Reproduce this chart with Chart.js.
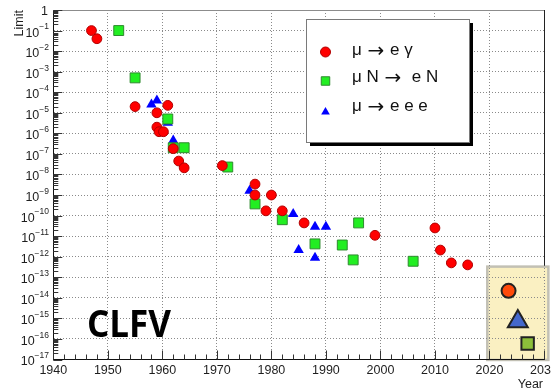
<!DOCTYPE html>
<html>
<head>
<meta charset="utf-8">
<title>CLFV limits</title>
<script src="https://cdn.jsdelivr.net/npm/chart.js@4.4.1/dist/chart.umd.min.js"></script>
<style>
  html, body { margin: 0; padding: 0; background: #fff; }
  canvas { display: block; }
</style>
</head>
<body>
<canvas id="clfvChart" width="551" height="392"></canvas>
<script>
// mu -> e gamma
const megYears  = [1947, 1948, 1955, 1959, 1959, 1959.4, 1960.2, 1961, 1962, 1963, 1964, 1971, 1977, 1977, 1979, 1980, 1982, 1986, 1999, 2010, 2011, 2013, 2016];
const megLimits = [1e-1, 4e-2, 2e-5, 1e-5, 2e-6, 1.2e-6, 1.2e-6, 2.3e-5, 1.8e-7, 4.5e-8, 2.1e-8, 2.7e-8, 3.4e-9, 1e-9, 1.7e-10, 1e-9, 1.7e-10, 4.4e-11, 1.1e-11, 2.5e-11, 2.1e-12, 5e-13, 4e-13];

// mu N -> e N
const convYears  = [1952, 1955, 1961, 1962, 1964, 1972, 1977, 1982, 1988, 1993, 1995, 1996, 2006];
const convLimits = [1e-1, 5e-4, 5e-6, 2e-7, 2e-7, 2.3e-8, 3.7e-10, 6.3e-11, 4.2e-12, 3.7e-12, 7e-13, 4.4e-11, 6e-13];

// mu -> e e e
const eeeYears  = [1958, 1959, 1961, 1962, 1976, 1984, 1985, 1988, 1988, 1990];
const eeeLimits = [2.5e-5, 4e-5, 3.3e-6, 4.5e-7, 1.6e-9, 1.2e-10, 2.1e-12, 2.9e-11, 9e-13, 2.9e-11];

// expected sensitivities (yellow box)
const futureYears  = [2023.5, 2025.2, 2027];
const futureLimits = [2.2e-14, 7e-16, 6e-17];
const boxYears  = [2019.6, 2030.8];
const boxLimits = [3.3e-13, 9.5e-18];

const seriesLabels = ['\u03bc \u2192 e \u03b3', '\u03bc N \u2192  e N', '\u03bc \u2192 e e e'];
const yearTicks = [1940, 1950, 1960, 1970, 1980, 1990, 2000, 2010, 2020, 2030];
const limitExponents = [0, -1, -2, -3, -4, -5, -6, -7, -8, -9, -10, -11, -12, -13, -14, -15, -16, -17];

const FONT = "'Liberation Sans', Arial, sans-serif";

function toPoints(xs, ys) {
    return xs.map((x, i) => ({ x: x, y: ys[i] }));
}

// legend text: draw the arrow a bit bigger, like the ROOT latex arrow
function drawLegendText(ctx, text, x, y) {
    const parts = text.split('\u2192');
    let cx = x;
    parts.forEach((part, i) => {
        ctx.font = '17px ' + FONT;
        ctx.fillText(part, cx, y);
        cx += ctx.measureText(part).width;
        if (i < parts.length - 1) {
            ctx.font = "20px 'DejaVu Sans', sans-serif";
            ctx.fillText('\u2192', cx + 1, y + 2);
            cx += ctx.measureText('\u2192').width + 2;
        }
    });
}

// ROOT-like frame, inside ticks, superscript labels, legend and annotation
const rootStyle = {
    id: 'rootStyle',
    beforeDraw(chart) {
        const { ctx } = chart;
        const xs = chart.scales.x, ys = chart.scales.y;
        const x0 = xs.getPixelForValue(boxYears[0]);
        const x1 = xs.getPixelForValue(boxYears[1]);
        const y0 = ys.getPixelForValue(boxLimits[0]);
        const y1 = ys.getPixelForValue(boxLimits[1]);
        ctx.save();
        ctx.fillStyle = '#faf0c2';
        ctx.fillRect(x0, y0, x1 - x0, y1 - y0);
        ctx.strokeStyle = '#c2c0b4';
        ctx.lineWidth = 2.5;
        ctx.strokeRect(x0, y0, x1 - x0, y1 - y0);
        ctx.restore();
    },
    afterDraw(chart) {
        const { ctx, chartArea: a } = chart;
        const xs = chart.scales.x, ys = chart.scales.y;
        ctx.save();

        // top and right frame
        const boxTop = ys.getPixelForValue(boxLimits[0]);
        ctx.lineWidth = 1;
        ctx.strokeStyle = '#8c8c8c';
        ctx.beginPath();
        ctx.moveTo(a.left, a.top + 0.5);
        ctx.lineTo(a.right, a.top + 0.5);
        ctx.stroke();
        ctx.strokeStyle = '#222';
        ctx.beginPath();
        ctx.moveTo(a.right + 0.5, a.top);
        ctx.lineTo(a.right + 0.5, boxTop - 1);
        ctx.stroke();

        // x ticks (inside, every 2 years)
        ctx.strokeStyle = '#333';
        for (let yr = 1940; yr <= 2030; yr += 2) {
            const px = Math.round(xs.getPixelForValue(yr)) + 0.5;
            const len = yr % 10 === 0 ? 9 : 5;
            ctx.beginPath();
            ctx.moveTo(px, a.bottom);
            ctx.lineTo(px, a.bottom - len);
            ctx.stroke();
        }

        // y ticks (inside, log minors)
        limitExponents.forEach(e => {
            const py = Math.round(ys.getPixelForValue(Math.pow(10, e))) + 0.5;
            ctx.beginPath();
            ctx.moveTo(a.left, py);
            ctx.lineTo(a.left + 9, py);
            ctx.stroke();
            if (e === 0) return;
            for (let m = 2; m <= 9; m++) {
                const pm = Math.round(ys.getPixelForValue(m * Math.pow(10, e))) + 0.5;
                ctx.beginPath();
                ctx.moveTo(a.left, pm);
                ctx.lineTo(a.left + 5, pm);
                ctx.stroke();
            }
        });

        // x tick labels
        ctx.fillStyle = '#1e1e1e';
        ctx.font = '12.5px ' + FONT;
        ctx.textAlign = 'center';
        ctx.textBaseline = 'middle';
        yearTicks.forEach(yr => {
            ctx.fillText(String(yr), xs.getPixelForValue(yr), a.bottom + 11);
        });

        // y tick labels with superscripts
        ctx.textAlign = 'left';
        limitExponents.forEach(e => {
            const py = ys.getPixelForValue(Math.pow(10, e));
            if (e === 0) {
                ctx.font = '12.5px ' + FONT;
                ctx.textAlign = 'right';
                ctx.fillText('1', 48, py + 1.5);
                ctx.textAlign = 'left';
                return;
            }
            const exp = '\u2212' + (-e);
            ctx.font = '8.5px ' + FONT;
            const wExp = ctx.measureText(exp).width;
            ctx.font = '12.5px ' + FONT;
            const wBase = ctx.measureText('10').width;
            const right = 49;
            ctx.fillText('10', right - wExp - wBase, py + 2.5);
            ctx.font = '8.5px ' + FONT;
            ctx.fillText(exp, right - wExp, py - 3.5);
        });

        // axis titles
        ctx.font = '12.5px ' + FONT;
        ctx.textAlign = 'right';
        ctx.fillText('Year', a.right - 1, 385);
        ctx.save();
        ctx.translate(20, a.top);
        ctx.rotate(-Math.PI / 2);
        ctx.fillText('Limit', 0, 0);
        ctx.restore();

        // big label
        ctx.font = "bold 37px 'Open Sans', " + FONT;
        ctx.textAlign = 'left';
        ctx.textBaseline = 'alphabetic';
        ctx.fillStyle = '#000';
        const w = ctx.measureText('CLFV').width;
        ctx.save();
        ctx.translate(87, 337);
        ctx.scale(Math.min(1, 84 / w), 1);
        ctx.fillText('CLFV', 0, 0);
        ctx.restore();

        // legend
        const lx = 306, ly = 19, lw = 163, lh = 123;
        ctx.fillStyle = '#000';
        ctx.fillRect(lx + 4, ly + 4, lw, lh);
        ctx.fillStyle = '#fff';
        ctx.fillRect(lx, ly, lw, lh);
        ctx.strokeStyle = '#7a7a7a';
        ctx.lineWidth = 1;
        ctx.strokeRect(lx + 0.5, ly + 0.5, lw, lh);
        const rows = [52, 81, 112];
        const textRows = [50, 77, 106];
        chart.data.datasets.slice(0, 3).forEach((ds, i) => {
            ctx.fillStyle = ds.backgroundColor;
            ctx.strokeStyle = ds.borderColor;
            ctx.lineWidth = ds.borderWidth;
            Chart.helpers.drawPoint(ctx, {
                pointStyle: ds.pointStyle,
                radius: ds.legendRadius,
                borderWidth: ds.borderWidth
            }, 325.5, rows[i]);
            ctx.fillStyle = '#111';
            ctx.textAlign = 'left';
            ctx.textBaseline = 'middle';
            drawLegendText(ctx, ds.label, 352, textRows[i]);
        });

        ctx.restore();
    }
};

const ctx = document.getElementById('clfvChart').getContext('2d');
const clfvChart = new Chart(ctx, {
    type: 'scatter',
    data: {
        datasets: [{
            label: seriesLabels[0],
            data: toPoints(megYears, megLimits),
            pointStyle: 'circle',
            backgroundColor: '#ff0000',
            borderColor: '#b00000',
            borderWidth: 1,
            pointRadius: 4.9,
            legendRadius: 5
        }, {
            label: seriesLabels[1],
            data: toPoints(convYears, convLimits),
            pointStyle: 'rect',
            backgroundColor: '#22ee22',
            borderColor: '#2f8a2f',
            borderWidth: 1,
            pointRadius: 7,
            legendRadius: 6
        }, {
            label: seriesLabels[2],
            data: toPoints(eeeYears, eeeLimits),
            pointStyle: 'triangle',
            backgroundColor: '#0000ff',
            borderColor: '#0000ee',
            borderWidth: 0,
            pointRadius: 6,
            legendRadius: 5
        }, {
            label: 'future',
            data: toPoints(futureYears, futureLimits),
            pointStyle: ['circle', 'triangle', 'rect'],
            backgroundColor: ['#ff4a0a', '#4468cc', '#8cbf3a'],
            borderColor: '#222',
            borderWidth: 2,
            pointRadius: [7, 11.5, 8.8]
        }]
    },
    options: {
        responsive: false,
        animation: false,
        events: [],
        layout: { autoPadding: false, padding: { top: 10, right: 7, left: 0, bottom: 0 } },
        plugins: {
            legend: { display: false },
            tooltip: { enabled: false }
        },
        scales: {
            x: {
                type: 'linear',
                min: 1940,
                max: 2030,
                afterBuildTicks: scale => { scale.ticks = yearTicks.map(v => ({ value: v })); },
                afterFit: scale => { scale.height = 32.5; },
                ticks: { display: false },
                grid: { color: '#8a8a8a', lineWidth: 1, drawTicks: false },
                border: { display: true, color: '#111', width: 1, dash: [1, 2] }
            },
            y: {
                type: 'logarithmic',
                min: 1e-17,
                max: 1,
                afterBuildTicks: scale => {
                    scale.ticks = limitExponents.map(e => ({ value: Math.pow(10, e) }));
                },
                afterFit: scale => { scale.width = 53.3; },
                ticks: { display: false },
                grid: { color: '#8a8a8a', lineWidth: 1, drawTicks: false },
                border: { display: true, color: '#111', width: 1, dash: [1, 2] }
            }
        }
    },
    plugins: [rootStyle]
});
</script>
</body>
</html>
